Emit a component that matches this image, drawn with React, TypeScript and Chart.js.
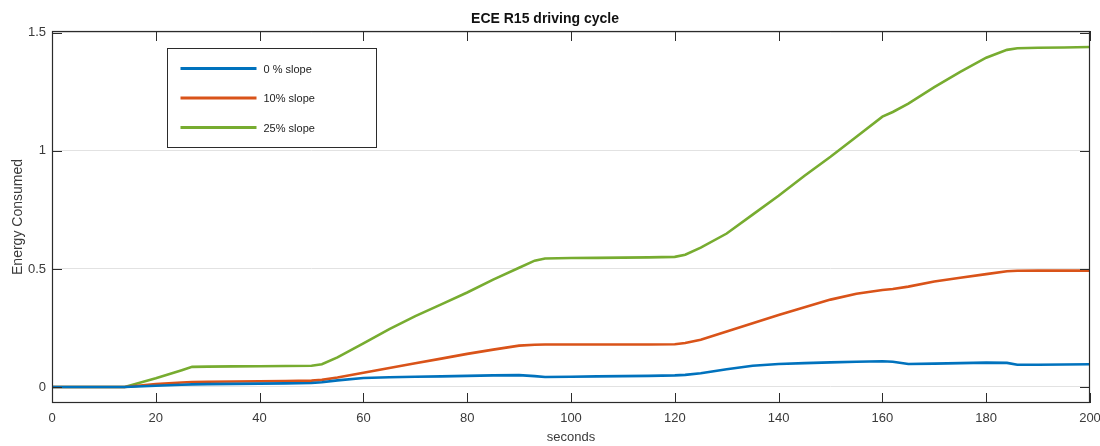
import React, { useEffect, useRef } from 'react';
import { Chart, registerables } from 'chart.js';

Chart.register(...registerables);

// ---- data ----
const chartTitle = 'ECE R15 driving cycle';
const xTitle = 'seconds';
const yTitle = 'Energy Consumed';
const seriesLabels = ['0 % slope', '10% slope', '25% slope'];
const seriesColors = ['#0072BD', '#D95319', '#77AC30'];

const seconds = [
  0, 5, 10, 14, 20, 25, 27, 30, 35, 40, 45, 50, 52, 55, 60, 65, 70, 75, 80, 85, 90, 93, 95,
  100, 105, 110, 115, 120, 122, 125, 130, 135, 140, 145, 150, 155, 160, 162, 165, 170, 175,
  180, 184, 186, 190, 195, 200,
];

const slope0 = [
  0, 0, 0, 0, 0.005, 0.009, 0.011, 0.012, 0.013, 0.014, 0.015, 0.017, 0.02, 0.028, 0.038,
  0.041, 0.043, 0.045, 0.047, 0.049, 0.05, 0.046, 0.042, 0.043, 0.045, 0.046, 0.047, 0.049,
  0.051, 0.058, 0.075, 0.09, 0.097, 0.101, 0.104, 0.107, 0.109, 0.107, 0.097, 0.099, 0.101,
  0.103, 0.102, 0.094, 0.094, 0.095, 0.096,
];

const slope10 = [
  0, 0, 0, 0, 0.012, 0.019, 0.021, 0.022, 0.023, 0.024, 0.025, 0.027, 0.03, 0.04, 0.06, 0.08,
  0.1, 0.12, 0.14, 0.158, 0.175, 0.179, 0.18, 0.18, 0.18, 0.18, 0.18, 0.181, 0.186, 0.2,
  0.235, 0.27, 0.305, 0.338, 0.37, 0.395, 0.411, 0.415, 0.425, 0.447, 0.463, 0.478, 0.49,
  0.492, 0.493, 0.493, 0.493,
];

const slope25 = [
  0, 0, 0, 0, 0.037, 0.071, 0.085, 0.086, 0.087, 0.088, 0.089, 0.09, 0.096, 0.125, 0.185,
  0.245, 0.3, 0.35, 0.4, 0.455, 0.505, 0.535, 0.544, 0.546, 0.547, 0.548, 0.549, 0.551, 0.56,
  0.59, 0.65, 0.73, 0.81, 0.895, 0.975, 1.06, 1.145, 1.165, 1.2, 1.27, 1.335, 1.395, 1.428,
  1.435, 1.437, 1.438, 1.44,
];

const seriesValues = [slope0, slope10, slope25];

const xTicks = [0, 20, 40, 60, 80, 100, 120, 140, 160, 180, 200];
const yTicks = [0, 0.5, 1, 1.5];
const yTickLabels = ['0', '0.5', '1', '1.5'];

const FONT = "'Liberation Sans', Arial, Helvetica, sans-serif";

const matlabFrame = {
  id: 'matlabFrame',
  afterDatasetsDraw(chart: any) {
    const { ctx, chartArea: a, scales } = chart;
    const x = scales.x;
    const y = scales.y;
    ctx.save();
    ctx.strokeStyle = '#2b2b2b';
    ctx.lineWidth = 1.2;
    ctx.strokeRect(Math.round(a.left) + 0.5, Math.round(a.top) + 0.5, Math.round(a.width) - 1, Math.round(a.height) - 1);
    const L = 10;
    ctx.lineWidth = 1;
    ctx.beginPath();
    xTicks.forEach((v) => {
      const px = Math.round(x.getPixelForValue(v)) + 0.5;
      ctx.moveTo(px, a.bottom);
      ctx.lineTo(px, a.bottom - L);
      ctx.moveTo(px, a.top);
      ctx.lineTo(px, a.top + L);
    });
    yTicks.forEach((v) => {
      const py = Math.round(y.getPixelForValue(v)) + 0.5;
      ctx.moveTo(a.left, py);
      ctx.lineTo(a.left + L, py);
      ctx.moveTo(a.right, py);
      ctx.lineTo(a.right - L, py);
    });
    ctx.stroke();

    // legend box inside the plot
    const bx = Math.round(a.left + 115) + 0.5;
    const by = Math.round(a.top + 17) + 0.5;
    const bw = 209;
    const bh = 99;
    ctx.fillStyle = '#ffffff';
    ctx.fillRect(bx, by, bw, bh);
    ctx.strokeStyle = '#2b2b2b';
    ctx.lineWidth = 1;
    ctx.strokeRect(bx, by, bw, bh);
    chart.data.datasets.forEach((ds: any, i: number) => {
      const ly = by + 20 + i * 29.5;
      ctx.strokeStyle = ds.borderColor;
      ctx.lineWidth = 3;
      ctx.beginPath();
      ctx.moveTo(bx + 13, ly);
      ctx.lineTo(bx + 89, ly);
      ctx.stroke();
      ctx.fillStyle = '#222';
      ctx.font = `11px ${FONT}`;
      ctx.textAlign = 'left';
      ctx.textBaseline = 'middle';
      ctx.fillText(ds.label, bx + 96, ly + 1);
    });
    ctx.restore();
  },
};

export default function App() {
  const ref = useRef<HTMLCanvasElement | null>(null);

  useEffect(() => {
    if (!ref.current) return;
    const chart = new Chart(ref.current, {
      type: 'line',
      data: {
        datasets: seriesValues.map((vals, i) => ({
          label: seriesLabels[i],
          data: seconds.map((s, k) => ({ x: s, y: vals[k] })),
          borderColor: seriesColors[i],
          backgroundColor: seriesColors[i],
          borderWidth: 2.6,
          pointRadius: 0,
          tension: 0,
          fill: false,
        })),
      },
      options: {
        responsive: false,
        animation: false,
        devicePixelRatio: 1,
        layout: { padding: { left: 0, right: 10, top: 0, bottom: 0 } },
        plugins: {
          legend: { display: false },
          tooltip: { enabled: false },
          title: {
            display: true,
            text: chartTitle,
            color: '#111',
            font: { family: FONT, size: 14, weight: 'bold' },
            padding: { top: 11, bottom: 3.2 },
          },
        },
        scales: {
          x: {
            type: 'linear',
            min: 0,
            max: 200,
            grid: { display: false, drawTicks: false },
            border: { display: false },
            ticks: {
              autoSkip: false,
              maxRotation: 0,
              padding: 8,
              color: '#3a3a3a',
              font: { family: FONT, size: 13 },
            },
            afterBuildTicks: (ax: any) => {
              ax.ticks = xTicks.map((v) => ({ value: v }));
            },
            afterFit: (ax: any) => {
              ax.height = 43;
              ax.paddingLeft = 0;
              ax.paddingRight = 0;
            },
            title: {
              display: true,
              text: xTitle,
              color: '#3a3a3a',
              font: { family: FONT, size: 13 },
              padding: { top: 0, bottom: 1 },
            },
          },
          y: {
            type: 'linear',
            min: -0.068,
            max: 1.508,
            grid: { color: '#e2e2e2', lineWidth: 1, drawTicks: false },
            border: { display: false },
            ticks: {
              padding: 6,
              color: '#3a3a3a',
              font: { family: FONT, size: 13 },
              callback: (v: any) => {
                const idx = yTicks.indexOf(Number(v));
                return idx >= 0 ? yTickLabels[idx] : String(v);
              },
            },
            afterBuildTicks: (ax: any) => {
              ax.ticks = yTicks.map((v) => ({ value: v }));
            },
            afterFit: (ax: any) => {
              ax.width = 52;
              ax.paddingTop = 0;
              ax.paddingBottom = 0;
            },
            title: {
              display: true,
              text: yTitle,
              color: '#3a3a3a',
              font: { family: FONT, size: 14 },
              padding: { top: 9.6, bottom: 0 },
            },
          },
        },
      },
      plugins: [matlabFrame],
    } as any);
    return () => chart.destroy();
  }, []);

  return (
    <div style={{ position: 'fixed', left: 0, top: 0, width: 1100, height: 446, background: '#fff' }}>
      <canvas ref={ref} width={1100} height={446} style={{ display: 'block', width: 1100, height: 446 }} />
    </div>
  );
}
